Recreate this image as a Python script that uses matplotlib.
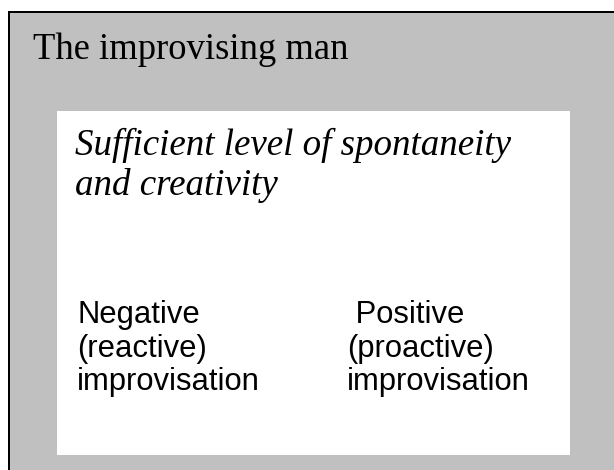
import matplotlib.pyplot as plt
from matplotlib.patches import Rectangle

# diagram text
title = "The improvising man"
inner_lines = ["Sufficient level of spontaneity", "and creativity"]
left_lines = ["Negative", "(reactive)", "improvisation"]
right_lines = [" Positive", "(proactive)", "improvisation"]

W, H = 614, 470
fig = plt.figure(figsize=(W / 100, H / 100), dpi=100)
ax = fig.add_axes([0, 0, 1, 1])
ax.set_xlim(0, W)
ax.set_ylim(H, 0)
ax.axis('off')

px = 72 / 100  # pixel -> point

# outer grey box (right/bottom run off the picture)
ax.add_patch(Rectangle((9, 12), 606, 470, facecolor='#c0c0c0',
                       edgecolor='black', linewidth=2 * px))
# inner white box
ax.add_patch(Rectangle((57, 111), 513, 344, facecolor='white', edgecolor='none'))

ax.text(33, 59, title, family='Liberation Serif', fontsize=36.6 * px,
        va='baseline', ha='left')

for i, s in enumerate(inner_lines):
    ax.text(75, 155 + i * 40, s, family='Liberation Serif', style='italic',
            fontsize=37 * px, va='baseline', ha='left')

for i, s in enumerate(left_lines):
    ax.text(77, 323 + i * 33.5, s, family='Liberation Sans',
            fontsize=31 * px, va='baseline', ha='left')
for i, s in enumerate(right_lines):
    ax.text(347, 323 + i * 33.5, s, family='Liberation Sans',
            fontsize=31 * px, va='baseline', ha='left')

fig.savefig('out.png', dpi=100)
